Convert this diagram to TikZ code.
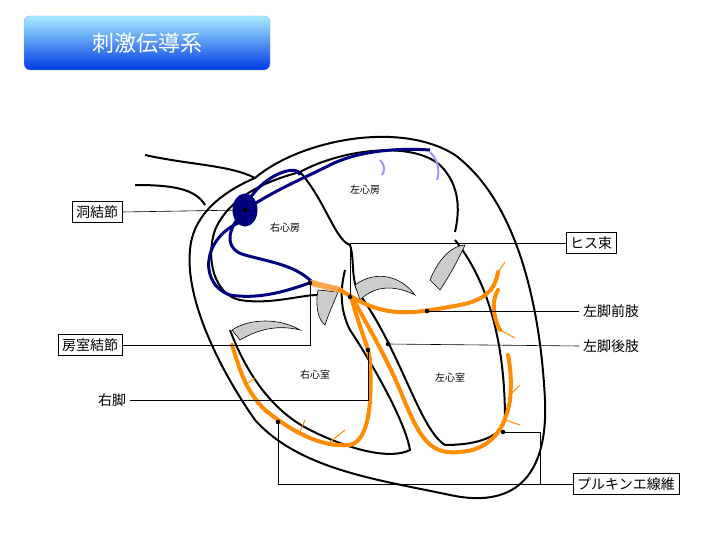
\documentclass[tikz,border=0pt]{standalone}
\usepackage{fontspec}
\setmainfont{Noto Sans CJK JP}
\begin{document}
\begin{tikzpicture}[x=1pt,y=-1pt,
 wall/.style={line width=2pt,black},
 blue/.style={line width=3pt,draw=blue!50!black},
 org/.style={line width=4pt,draw=orange!90!yellow,line cap=round},
 twig/.style={line width=1pt,draw=orange!90!yellow},
 lbl/.style={draw,fill=white,inner sep=4pt,font=\fontsize{14}{16}\selectfont},
 txt/.style={font=\fontsize{14}{16}\selectfont},
 small/.style={font=\fontsize{10}{12}\selectfont},
 lead/.style={line width=0.6pt},
 dot/.style={circle,fill=black,inner sep=1.6pt},
 valve/.style={fill=gray!40,draw=black,line width=0.6pt}]
\useasboundingbox (0,0) rectangle (720,540);
% title
\node[rounded corners=6pt,top color=blue!20!cyan!35,bottom color=blue!75!cyan!90!black,draw=blue!40,minimum width=246pt,minimum height=54pt,text=white,font=\fontsize{22}{26}\selectfont] (title) at (147,43) {刺激伝導系};
% vessels
\draw[wall] (145,155) .. controls (190,165) and (230,165) .. (255,178);
\draw[wall] (135,185) .. controls (170,185) and (195,188) .. (205,205);
% outer heart
\draw[wall] (255,178) .. controls (300,140) and (400,120) .. (455,155)
 .. controls (515,200) and (540,300) .. (545,400)
 .. controls (548,470) and (520,510) .. (450,495)
 .. controls (380,480) and (300,470) .. (255,420)
 .. controls (220,370) and (185,300) .. (190,250)
 .. controls (192,220) and (215,195) .. (255,178);
% left atrium / ventricle inner
\draw[wall] (300,172) .. controls (340,150) and (410,140) .. (440,165)
 .. controls (460,185) and (460,210) .. (455,232);
\draw[wall] (300,172) .. controls (325,200) and (335,240) .. (350,245);
\draw[wall] (455,240) .. controls (495,290) and (505,360) .. (505,420)
 .. controls (500,440) and (470,445) .. (445,445)
 .. controls (420,430) and (400,350) .. (360,295)
 .. controls (350,280) and (355,260) .. (350,245);
% right atrium / ventricle inner
\draw[wall] (300,172) .. controls (270,180) and (230,195) .. (215,230)
 .. controls (205,260) and (215,295) .. (240,300)
 .. controls (270,305) and (300,295) .. (318,295);
\draw[wall] (230,330) .. controls (245,370) and (270,410) .. (310,430)
 .. controls (350,450) and (390,460) .. (410,450)
 .. controls (405,420) and (370,360) .. (350,330)
 .. controls (340,310) and (340,290) .. (345,270);
% valves
\draw[valve] (232,330) .. controls (250,318) and (280,318) .. (300,330) .. controls (280,325) and (260,328) .. (240,340) -- cycle;
\draw[valve] (355,285) .. controls (375,270) and (400,275) .. (415,295) .. controls (395,285) and (375,285) .. (360,300) -- cycle;
\draw[valve] (430,280) .. controls (440,255) and (455,245) .. (465,245) .. controls (458,260) and (450,275) .. (440,290) -- cycle;
\draw[valve] (318,290) .. controls (315,305) and (318,320) .. (325,325) .. controls (330,310) and (335,300) .. (338,292) -- cycle;
% blue conduction
\draw[blue,fill=blue!50!black] (245,210) ellipse (11 and 15);
\draw[blue] (245,210) .. controls (275,190) and (300,180) .. (330,165) .. controls (360,150) and (400,148) .. (430,150);
\draw[blue] (245,210) .. controls (225,230) and (225,250) .. (245,255) .. controls (270,262) and (295,265) .. (312,282);
\draw[blue] (240,222) .. controls (200,240) and (200,285) .. (230,295) .. controls (260,300) and (290,290) .. (312,282);
\draw[blue] (250,198) .. controls (270,170) and (300,165) .. (300,175);
\draw[line width=2pt,blue!40] (380,160) .. controls (385,165) and (385,170) .. (382,175);
\draw[line width=2pt,blue!40] (430,152) .. controls (438,160) and (440,170) .. (437,180);
% orange
\draw[line width=6pt,orange!70,line cap=round] (312,283) -- (340,290);
\draw[org] (340,290) -- (352,297) .. controls (390,320) and (420,312) .. (460,305) .. controls (485,300) and (495,290) .. (498,272);
\draw[org] (352,297) .. controls (370,330) and (385,355) .. (400,390) .. controls (420,440) and (430,455) .. (460,452) .. controls (490,450) and (505,430) .. (510,400) .. controls (512,380) and (510,365) .. (508,355);
\draw[org] (352,300) .. controls (360,330) and (368,345) .. (370,360) .. controls (372,400) and (370,440) .. (350,445) .. controls (320,448) and (290,430) .. (265,410) .. controls (245,390) and (240,370) .. (232,345);
\draw[org] (498,290) .. controls (492,300) and (492,315) .. (500,330);
\draw[twig] (505,420) -- (520,425); \draw[twig] (510,395) -- (520,385);
\draw[twig] (300,432) -- (305,420); \draw[twig] (330,442) -- (345,430);
\draw[twig] (245,385) -- (255,378); \draw[twig] (500,330) -- (515,338);
\draw[twig] (498,272) -- (505,262);
% chamber labels
\node[small] (ra) at (285,228) {右心房};
\node[small] (la) at (365,190) {左心房};
\node[small] (rv) at (315,375) {右心室};
\node[small] (lv) at (450,378) {左心室};
% dots
\node[dot] (sa) at (245,210) {};
\node[dot] (av) at (310,283) {};
\node[dot] (his) at (350,297) {};
\node[dot] (lab) at (427,311) {};
\node[dot] (lpb) at (388,344) {};
\node[dot] (rb) at (368,350) {};
\node[dot] (pk1) at (278,422) {};
\node[dot] (pk2) at (503,432) {};
% labels
\node[lbl] (l1) at (97,212) {洞結節};
\node[lbl] (l2) at (591,243) {ヒス束};
\node[txt] (l3) at (611,311) {左脚前肢};
\node[txt] (l4) at (611,346) {左脚後肢};
\node[lbl] (l5) at (90,345) {房室結節};
\node[txt] (l6) at (112,400) {右脚};
\node[lbl] (l7) at (626,484) {プルキンエ線維};
\coordinate (c1) at (350,243);
\coordinate (c2) at (310,345);
\coordinate (c3) at (368,400);
\coordinate (c4) at (278,484);
\coordinate (c5) at (540,432);
\coordinate (c6) at (540,484);
\draw[lead] (l1.east) -- (sa);
\draw[lead] (his) -- (c1) -- (l2.west);
\draw[lead] (lab) -- (l3.west);
\draw[lead] (lpb) -- (l4.west);
\draw[lead] (l5.east) -- (c2) -- (av);
\draw[lead] (l6.east) -- (c3) -- (rb);
\draw[lead] (pk1) -- (c4) -- (l7.west);
\draw[lead] (pk2) -- (c5) -- (c6);
\end{tikzpicture}
\end{document}
